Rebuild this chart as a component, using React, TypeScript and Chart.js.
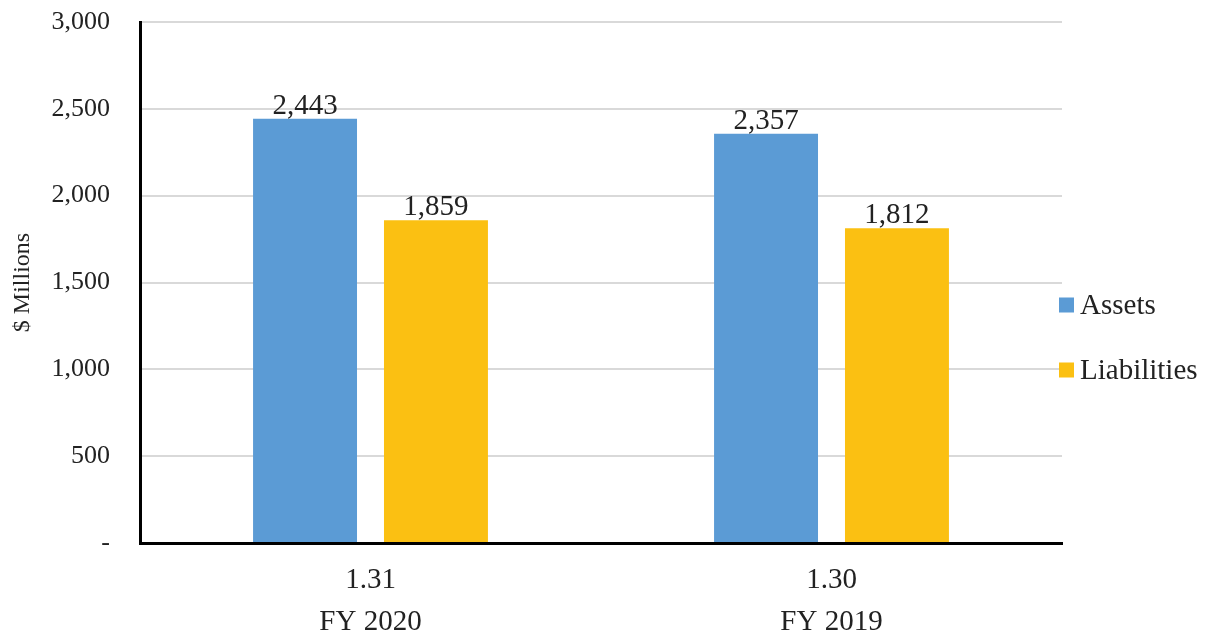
import React, { useEffect, useRef } from "react";
import { Chart, registerables } from "chart.js";

Chart.register(...registerables);

const ratios = ["1.31", "1.30"];
const years = ["FY 2020", "FY 2019"];
const assets = [2443, 2357];
const liabilities = [1859, 1812];
const yTicks = [0, 500, 1000, 1500, 2000, 2500, 3000];
const seriesNames = ["Assets", "Liabilities"];
const seriesColors = ["#5B9BD5", "#FBC012"];

const FONT = "'Liberation Serif', 'Times New Roman', serif";
const TEXT = "#222222";

const fmt = (v: number) => (v === 0 ? "-" : v.toLocaleString("en-US"));

const dataLabels = {
  id: "dataLabels",
  afterDatasetsDraw(chart: any) {
    const ctx = chart.ctx;
    ctx.save();
    ctx.font = `29px ${FONT}`;
    ctx.fillStyle = TEXT;
    ctx.textAlign = "center";
    ctx.textBaseline = "alphabetic";
    chart.data.datasets.forEach((ds: any, i: number) => {
      const meta = chart.getDatasetMeta(i);
      meta.data.forEach((bar: any, j: number) => {
        ctx.fillText(fmt(ds.data[j]), bar.x, bar.y - 5);
      });
    });
    ctx.restore();
  },
};

const sideLegend = {
  id: "sideLegend",
  afterDraw(chart: any) {
    const ctx = chart.ctx;
    ctx.save();
    ctx.font = `29px ${FONT}`;
    ctx.textBaseline = "middle";
    ctx.textAlign = "left";
    const x = chart.chartArea.right - 3;
    const ys = [305, 370];
    chart.data.datasets.forEach((ds: any, i: number) => {
      ctx.fillStyle = ds.backgroundColor;
      ctx.fillRect(x, ys[i] - 7.5, 15, 15);
      ctx.fillStyle = TEXT;
      ctx.fillText(ds.label, x + 21, ys[i] + 1);
    });
    ctx.restore();
  },
};

export default function App() {
  const ref = useRef<HTMLCanvasElement>(null);
  useEffect(() => {
    document.body.style.margin = "0";
    const labels = ratios.map((r, i) => [r, years[i]]);
    const chart = new Chart(ref.current!, {
      type: "bar",
      data: {
        labels,
        datasets: [
          { label: seriesNames[0], data: assets, backgroundColor: seriesColors[0] },
          { label: seriesNames[1], data: liabilities, backgroundColor: seriesColors[1] },
        ],
      },
      options: {
        animation: false,
        responsive: false,
        maintainAspectRatio: false,
        layout: { padding: { left: 0, right: 143, top: 22, bottom: 0 } },
        plugins: { legend: { display: false }, tooltip: { enabled: false } },
        datasets: { bar: { categoryPercentage: 0.568, barPercentage: 0.794 } },
        scales: {
          x: {
            grid: { display: false, drawTicks: false },
            border: { display: true, color: "#000000", width: 3 },
            ticks: {
              color: TEXT,
              font: { family: FONT, size: 29, lineHeight: 1.45 },
              padding: 16,
              maxRotation: 0,
            },
            afterFit: (s: any) => { s.height = 93; },
          },
          y: {
            min: 0,
            max: 3000,
            afterBuildTicks: (s: any) => { s.ticks = yTicks.map((v) => ({ value: v })); },
            grid: { color: "#D9D9D9", lineWidth: 2, drawTicks: false },
            border: { display: true, color: "#000000", width: 3 },
            ticks: {
              color: TEXT,
              font: { family: FONT, size: 26 },
              padding: 30,
              callback: (v: any) => fmt(Number(v)),
            },
            title: {
              display: true,
              text: "$ Millions",
              color: TEXT,
              font: { family: FONT, size: 24 },
              padding: { top: 8, bottom: 0 },
            },
            afterFit: (s: any) => {
              s.width = 140;
              s.paddingTop = 0;
              s.paddingBottom = 0;
            },
          },
        },
      },
      plugins: [dataLabels, sideLegend],
    });
    return () => chart.destroy();
  }, []);
  return (
    <div style={{ width: 1205, height: 636 }}>
      <canvas ref={ref} width={1205} height={636} style={{ width: 1205, height: 636, display: "block" }} />
    </div>
  );
}
